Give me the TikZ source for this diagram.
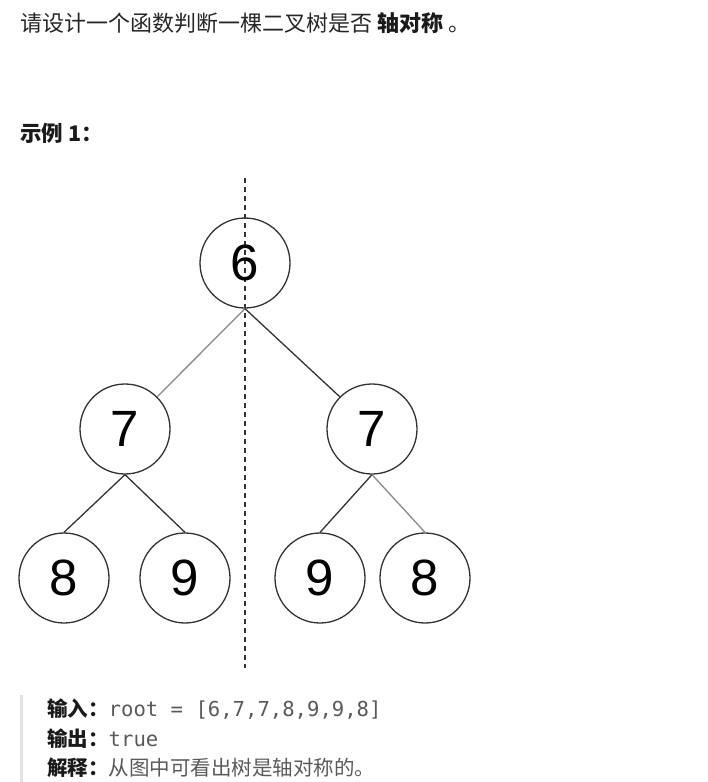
\documentclass[tikz,border=0pt]{standalone}
\usepackage{fontspec}
\setmainfont{Noto Sans CJK SC}
\setmonofont{DejaVu Sans Mono}
\newfontfamily\digitfont{Liberation Sans}
\definecolor{txt}{HTML}{262626}
\definecolor{lbl}{HTML}{1A1A1A}
\definecolor{soft}{HTML}{5A5A5A}
\definecolor{ln}{HTML}{333333}
\definecolor{lgray}{HTML}{8A8A8A}
\definecolor{bar}{HTML}{E3E3E3}
\tikzset{
  tnode/.style={circle, draw=ln, line width=1.3pt, minimum size=90pt, inner sep=0pt,
    font=\digitfont\fontsize{51}{51}\selectfont},
  darkedge/.style={draw=ln, line width=1.3pt},
  grayedge/.style={draw=lgray, line width=1.3pt},
  axisline/.style={draw=ln, line width=1.2pt, dash pattern=on 5pt off 4pt},
  txtnode/.style={anchor=base west, inner sep=0pt, text=txt},
}
\begin{document}
\begin{tikzpicture}[x=1pt,y=-1pt]
\useasboundingbox (0,0) rectangle (708,782);
% title
\node[txtnode, font=\fontsize{22}{26}\selectfont] (title) at (20,31)
  {请设计一个函数判断一棵二叉树是否 {\bfseries\color{lbl}轴对称} 。};
\node[txtnode, font=\bfseries\fontsize{21.5}{26}\selectfont, text=lbl] (ex) at (20,141) {示例 1：};
% axis
\coordinate (atop) at (245,178);
\coordinate (abot) at (245,668);
\draw[axisline] (atop) -- (abot);
% tree nodes
\node[tnode] (n6) at (245,263) {6};
\node[tnode] (l7) at (125,429) {7};
\node[tnode] (r7) at (372,429) {7};
\node[tnode] (a8) at (64,578) {8};
\node[tnode] (a9) at (185,578) {9};
\node[tnode] (b9) at (320,578) {9};
\node[tnode] (b8) at (425,578) {8};
% edges
\draw[grayedge] (n6.south) -- (l7.north east);
\draw[darkedge] (n6.south) -- (r7.north west);
\draw[darkedge] (l7.south) -- (a8.north);
\draw[darkedge] (l7.south) -- (a9.north);
\draw[darkedge] (r7.south) -- (b9.north);
\draw[grayedge] (r7.south) -- (b8.north);
% quote bar
\fill[bar] (20,695) rectangle (23,782);
% io lines
\node[txtnode, font=\fontsize{20.5}{24}\selectfont] (in) at (47,716)
  {{\bfseries\color{lbl}输入：}{\color{soft}\ttfamily\fontsize{20.6}{24}\selectfont root = [6,7,7,8,9,9,8]}};
\node[txtnode, font=\fontsize{20.5}{24}\selectfont] (out) at (47,746)
  {{\bfseries\color{lbl}输出：}{\color{soft}\ttfamily\fontsize{20.6}{24}\selectfont true}};
\node[txtnode, font=\fontsize{20.5}{24}\selectfont] (expl) at (47,775)
  {{\bfseries\color{lbl}解释：}{\color{soft}从图中可看出树是轴对称的。}};
\end{tikzpicture}
\end{document}
